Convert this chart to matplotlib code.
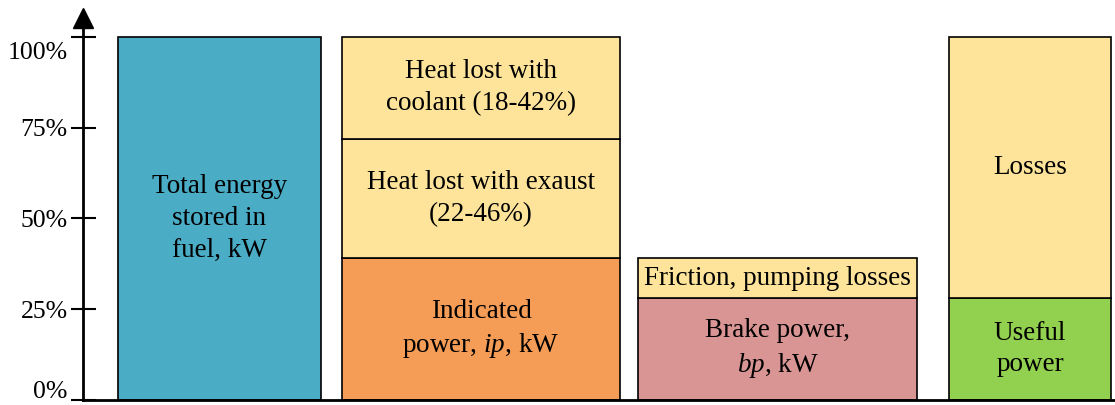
import matplotlib
matplotlib.use('Agg')
import matplotlib.pyplot as plt
import matplotlib.transforms as mtransforms

plt.rcParams['font.family'] = ['Liberation Serif', 'DejaVu Serif']
plt.rcParams['mathtext.fontset'] = 'custom'
plt.rcParams['mathtext.rm'] = 'Liberation Serif'
plt.rcParams['mathtext.it'] = 'Liberation Serif:italic'

# stacked segments per bar, in % of fuel energy (bottom -> top)
fuelValues = [100]
fuelLabels = ['Total energy\nstored in\nfuel, kW']

engineValues = [39, 33, 28]
engineLabels = ['Indicated\npower, $\\mathit{ip}$, kW',
                'Heat lost with exaust\n(22-46%)',
                'Heat lost with\ncoolant (18-42%)']

brakeValues = [28, 11]
brakeLabels = ['Brake power,\n$\\mathit{bp}$, kW', 'Friction, pumping losses']

outputValues = [28, 72]
outputLabels = ['Useful\npower', 'Losses']

yTicks = [0, 25, 50, 75, 100]
yTickLabels = ['0%', '25%', '50%', '75%', '100%']

blue = '#4BACC6'
orange = '#F59D56'
yellow = '#FDE49A'
pink = '#D99594'
green = '#92D050'

bars = [
    (35, 203, fuelValues, fuelLabels, [blue]),
    (259, 278, engineValues, engineLabels, [orange, yellow, yellow]),
    (555, 279, brakeValues, brakeLabels, [pink, yellow]),
    (866, 162, outputValues, outputLabels, [green, yellow]),
]

fig = plt.figure(figsize=(11.15, 4.05), dpi=100)
ax = fig.add_axes([83 / 1115, 5 / 405, 1 - 83 / 1115, 382 / 405])

for left, width, values, labels, colors in bars:
    bottom = 0
    for v, lab, c in zip(values, labels, colors):
        ax.bar(left, v, width=width, bottom=bottom, align='edge',
               color=c, edgecolor='black', linewidth=1.2, zorder=2)
        ax.text(left + width / 2, bottom + v / 2, lab, ha='center', va='center',
                fontsize=19.5, color='black', linespacing=1.35, zorder=3)
        bottom += v

ax.set_xlim(0, 1032)
ax.set_ylim(0, 105.2)
ax.set_xticks([])
ax.set_yticks(yTicks)
ax.set_yticklabels(yTickLabels, fontsize=18.5)
ax.tick_params(axis='y', direction='inout', length=18, width=1.5, pad=2)

# nudge the end labels like the original
lbls = ax.get_yticklabels()
lbls[-1].set_transform(lbls[-1].get_transform() +
                       mtransforms.ScaledTranslation(0, -0.14, fig.dpi_scale_trans))
lbls[0].set_transform(lbls[0].get_transform() +
                      mtransforms.ScaledTranslation(0, 0.1, fig.dpi_scale_trans))

for s in ['top', 'right']:
    ax.spines[s].set_visible(False)
ax.spines['left'].set_linewidth(2)
ax.spines['bottom'].set_linewidth(2)

# arrow head on the y axis
ax.plot(0, 1.0, marker='^', markersize=15, color='black',
        transform=ax.transAxes, clip_on=False, zorder=5)

fig.savefig('out.png', dpi=100)
